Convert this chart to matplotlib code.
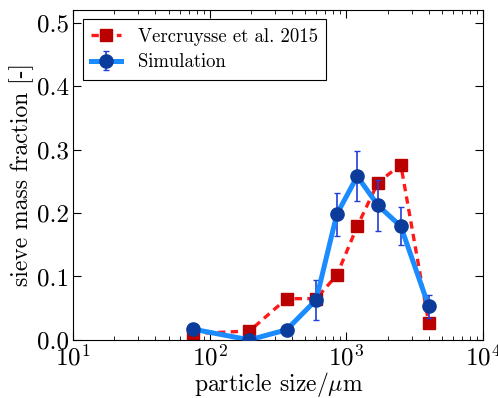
import matplotlib
matplotlib.use("Agg")
import matplotlib.pyplot as plt

plt.rcParams['font.family'] = ['cmr10', 'DejaVu Serif']
plt.rcParams['mathtext.fontset'] = 'cm'
plt.rcParams['axes.formatter.use_mathtext'] = True
plt.rcParams['axes.unicode_minus'] = False

size = [75, 195, 365, 600, 850, 1200, 1700, 2500, 4000]
exp_frac = [0.010, 0.014, 0.065, 0.065, 0.102, 0.179, 0.248, 0.276, 0.027]
sim_frac = [0.017, 0.000, 0.016, 0.063, 0.198, 0.258, 0.212, 0.179, 0.053]
sim_err = [0.008, 0.0, 0.004, 0.031, 0.034, 0.039, 0.040, 0.030, 0.018]

fig = plt.figure(figsize=(4.98, 3.98), dpi=100)
ax = fig.add_axes([0.147, 0.146, 0.823, 0.829])

ax.plot(size, exp_frac, linestyle='--', color='#ff1a1a', lw=2.4,
        dashes=(2.2, 1.6),
        marker='s', markersize=8.5, markerfacecolor='#bb0000',
        markeredgecolor='#bb0000', label='Vercruysse et al. 2015', zorder=2)
ax.errorbar(size, sim_frac, yerr=sim_err, color='#1a8cff', lw=3.6,
            marker='o', markersize=9.5, markerfacecolor='#0b3c9c',
            markeredgecolor='#0b3c9c', ecolor='#1f3fd8', elinewidth=1.2,
            capsize=2, capthick=1.0, label='Simulation', zorder=3)

ax.set_xscale('log')
ax.set_xlim(10, 1e4)
ax.set_ylim(0, 0.52)
ax.set_yticks([0.0, 0.1, 0.2, 0.3, 0.4, 0.5])
ax.set_yticklabels(['0.0', '0.1', '0.2', '0.3', '0.4', '0.5'])
ax.tick_params(which='both', direction='in', top=True, right=True, labelsize=18)
ax.tick_params(which='major', length=6, width=0.8, pad=3)
ax.tick_params(which='minor', length=3, width=0.6)
ax.set_xlabel(r'particle size/$\mu$m', fontsize=17, labelpad=0)
ax.set_ylabel('sieve mass fraction [-]', fontsize=17, labelpad=2)

leg = ax.legend(loc='upper left', fontsize=13.5, fancybox=False, framealpha=1,
                edgecolor='black', borderpad=0.45, handlelength=1.6,
                handletextpad=0.9, labelspacing=0.4)
leg.get_frame().set_linewidth(0.8)

fig.savefig('out.png', dpi=100)
